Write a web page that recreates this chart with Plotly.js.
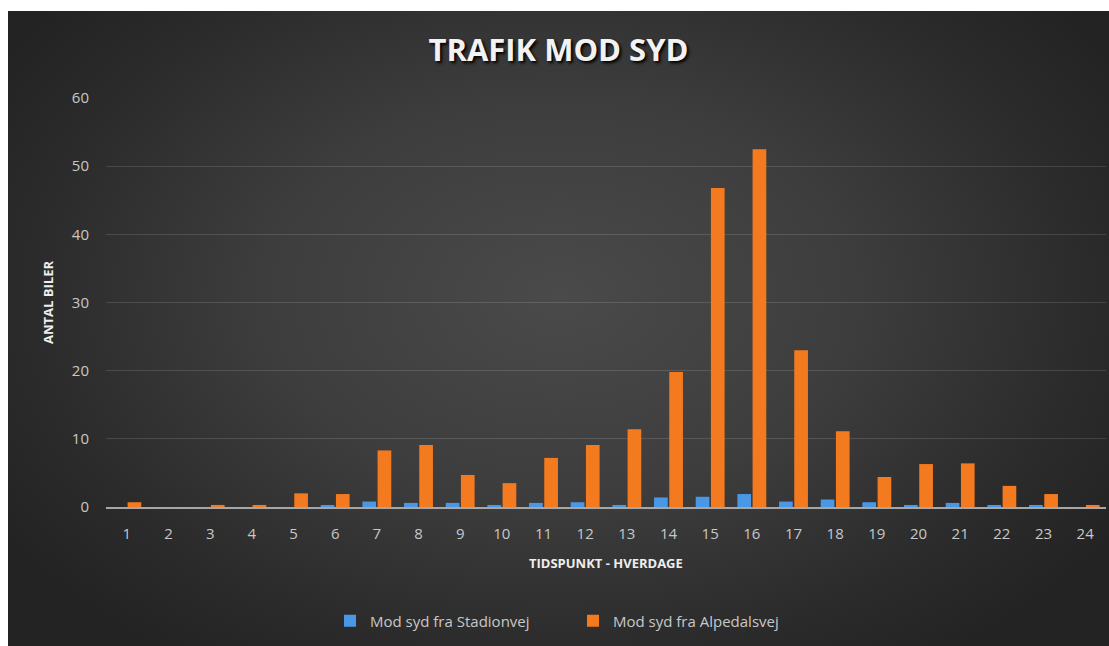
<!DOCTYPE html>
<html>
<head>
<meta charset="utf-8">
<script src="https://cdn.plot.ly/plotly-3.0.1.min.js"></script>
<style>
  html, body { margin: 0; padding: 0; background: #ffffff; width: 1109px; height: 646px; overflow: hidden; }
  #chart {
    position: absolute; left: 8px; top: 11px; width: 1101px; height: 635px;
    background: radial-gradient(ellipse 60% 70% at 50% 45%, #4a4a4a 0%, #3d3d3d 45%, #2b2b2b 80%, #232323 100%);
  }
</style>
</head>
<body>
<div id="chart"></div>
<script>
const categories = ["1","2","3","4","5","6","7","8","9","10","11","12","13","14","15","16","17","18","19","20","21","22","23","24"];
const stadionvej = [0, 0, 0, 0, 0, 0.3, 0.8, 0.6, 0.6, 0.3, 0.6, 0.7, 0.3, 1.4, 1.5, 1.9, 0.8, 1.1, 0.7, 0.3, 0.6, 0.3, 0.3, 0];
const alpedalsvej = [0.7, 0, 0.3, 0.3, 2.0, 1.9, 8.3, 9.1, 4.7, 3.5, 7.2, 9.1, 11.4, 19.8, 46.8, 52.5, 23.0, 11.1, 4.4, 6.3, 6.4, 3.1, 1.9, 0.3];
const seriesNames = ["Mod syd fra Stadionvej", "Mod syd fra Alpedalsvej"];
const yTicks = [0, 10, 20, 30, 40, 50, 60];

const font = "'Open Sans', 'Liberation Sans', sans-serif";

const data = [
  { type: "bar", x: categories, y: stadionvej, name: seriesNames[0],
    marker: { color: "#4a97e6" }, hoverinfo: "x+y+name" },
  { type: "bar", x: categories, y: alpedalsvej, name: seriesNames[1],
    marker: { color: "#f47a1f" }, hoverinfo: "x+y+name" }
];

const layout = {
  width: 1101, height: 635,
  paper_bgcolor: "rgba(0,0,0,0)",
  plot_bgcolor: "rgba(0,0,0,0)",
  margin: { l: 98, r: 3, t: 87, b: 139 },
  barmode: "group",
  bargap: 0.27,
  bargroupgap: 0.1,
  title: {
    text: "TRAFIK MOD SYD",
    x: 0.5, xref: "container", xanchor: "center",
    y: 1 - 39 / 635, yref: "container", yanchor: "middle",
    font: { family: font, size: 31, color: "#f2f2f2", weight: 700, shadow: "2px 2px 3px #000000" }
  },
  xaxis: {
    type: "category",
    showgrid: false,
    showline: true, linecolor: "#a6a6a6", linewidth: 1.5,
    ticks: "",
    tickfont: { family: font, size: 15, color: "#c8c8c8" },
    ticklabelstandoff: 12,
    fixedrange: true
  },
  yaxis: {
    range: [0, 60],
    tickvals: yTicks,
    showgrid: true, gridcolor: "rgba(255,255,255,0.13)", gridwidth: 1,
    zeroline: false,
    showline: false,
    ticks: "",
    tickfont: { family: font, size: 15, color: "#c8c8c8" },
    ticklabelstandoff: 16,
    fixedrange: true
  },
  showlegend: true,
  legend: {
    orientation: "h",
    x: 0.467, xanchor: "center",
    y: -0.279, yanchor: "middle",
    font: { family: font, size: 15, color: "#c8c8c8" },
    bgcolor: "rgba(0,0,0,0)",
    itemwidth: 30,
    entrywidth: 198,
    entrywidthmode: "pixels",
    traceorder: "normal"
  },
  annotations: [
    { text: "TIDSPUNKT - HVERDAGE", xref: "paper", yref: "paper", x: 0.5, y: (496 - 552) / 409,
      xanchor: "center", yanchor: "middle", showarrow: false,
      font: { family: font, size: 13, color: "#eeeeee", weight: 700 } },
    { text: "ANTAL BILER", xref: "paper", yref: "paper", x: (40 - 98) / 1000, y: (496 - 292) / 409,
      xanchor: "center", yanchor: "middle", showarrow: false, textangle: -90,
      font: { family: font, size: 13, color: "#eeeeee", weight: 700 } }
  ]
};

Plotly.newPlot("chart", data, layout, { displayModeBar: false, staticPlot: true });
</script>
</body>
</html>
